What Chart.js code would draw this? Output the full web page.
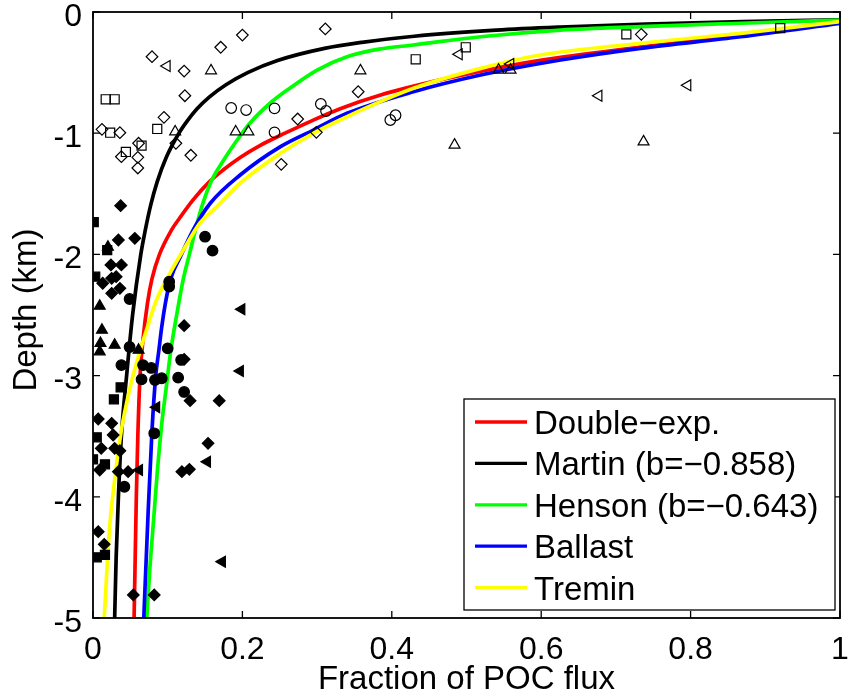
<!DOCTYPE html>
<html>
<head>
<meta charset="utf-8">
<script src="https://cdn.jsdelivr.net/npm/chart.js@4.4.1/dist/chart.umd.min.js"></script>
<style>
  html, body { margin: 0; padding: 0; background: #fff; }
  #c { display: block; }
</style>
</head>
<body>
<canvas id="c" width="848" height="699"></canvas>
<script>
const FONT = '"Liberation Sans", Arial, Helvetica, sans-serif';

// Axis ticks
const xTicks = [0, 0.2, 0.4, 0.6, 0.8, 1];
const xTickLabels = ['0', '0.2', '0.4', '0.6', '0.8', '1'];
const yTicks = [0, -1, -2, -3, -4, -5];
const yTickLabels = ['0', '-1', '-2', '-3', '-4', '-5'];

// Model curves: fraction of POC flux vs depth (km)
const seriesNames = ['Double\u2212exp.', 'Martin (b=\u22120.858)', 'Henson (b=\u22120.643)', 'Ballast', 'Tremin'];
const seriesColors = ['#ff0000', '#000000', '#00ff00', '#0000ff', '#ffff00'];

const doubleExpDepth = [0.08, 0.19, 0.29, 0.375, 0.44, 0.55, 0.685, 0.8, 0.9, 1.0, 1.1, 1.2, 1.3, 1.4, 1.55, 1.7, 1.8, 2.0, 2.2, 2.4, 2.7, 3.0, 3.5, 4.0, 4.5, 5.0];
const doubleExpFrac  = [1.0, 0.867, 0.733, 0.626, 0.56, 0.472, 0.385, 0.33, 0.292, 0.257, 0.224, 0.197, 0.175, 0.156, 0.134, 0.116, 0.105, 0.089, 0.079, 0.073, 0.067, 0.063, 0.060, 0.058, 0.0565, 0.055];

const martinDepth = [0.065, 0.08, 0.1, 0.125, 0.15, 0.2, 0.25, 0.3, 0.4, 0.5, 0.6, 0.7, 0.8, 0.9, 1.0, 1.2, 1.4, 1.6, 1.8, 2.0, 2.5, 3.0, 3.5, 4.0, 4.5, 5.0];
const martinFrac  = [1.0, 0.87, 0.74, 0.625, 0.54, 0.43, 0.36, 0.31, 0.247, 0.207, 0.178, 0.156, 0.139, 0.126, 0.115, 0.098, 0.086, 0.077, 0.070, 0.064, 0.053, 0.045, 0.038, 0.034, 0.031, 0.029];

const hensonDepth = [0.066, 0.093, 0.121, 0.149, 0.204, 0.272, 0.306, 0.369, 0.479, 0.644, 0.753, 0.918, 1.056, 1.221, 1.4, 1.6, 1.8, 2.0, 2.2, 2.5, 2.8, 3.1, 3.4, 3.8, 4.2, 4.6, 5.0];
const hensonFrac  = [1.0, 0.867, 0.733, 0.626, 0.519, 0.429, 0.383, 0.340, 0.300, 0.260, 0.237, 0.210, 0.193, 0.175, 0.158, 0.146, 0.137, 0.129, 0.121, 0.112, 0.104, 0.098, 0.092, 0.086, 0.081, 0.076, 0.072];

const ballastDepth = [0.093, 0.204, 0.30, 0.396, 0.52, 0.658, 0.836, 0.974, 1.111, 1.345, 1.578, 1.799, 2.019, 2.2, 2.4, 2.6, 2.8, 3.0, 3.45, 4.1, 5.0];
const ballastFrac  = [1.0, 0.867, 0.733, 0.626, 0.519, 0.429, 0.340, 0.295, 0.251, 0.197, 0.157, 0.134, 0.117, 0.104, 0.097, 0.092, 0.088, 0.084, 0.079, 0.074, 0.068];

const treminDepth = [0.08, 0.176, 0.258, 0.355, 0.465, 0.63, 0.864, 1.001, 1.166, 1.413, 1.606, 1.743, 1.964, 2.156, 2.376, 2.597, 2.816, 3.064, 3.284, 3.449, 3.861, 4.274, 5.0];
const treminFrac  = [1.0, 0.867, 0.733, 0.599, 0.519, 0.429, 0.340, 0.295, 0.251, 0.197, 0.166, 0.143, 0.121, 0.103, 0.085, 0.073, 0.062, 0.051, 0.043, 0.038, 0.029, 0.022, 0.015];

// Observations, shallow traps (open markers): [fraction, depth km]
const openDiamond = [[0.200,0.190],[0.171,0.291],[0.079,0.369],[0.122,0.487],[0.123,0.691],[0.095,0.869],[0.012,0.968],[0.036,0.996],[0.061,1.083],[0.038,1.194],[0.060,1.199],[0.060,1.287],[0.111,1.083],[0.131,1.182],[0.252,1.257],[0.311,0.140],[0.355,0.658],[0.274,0.883],[0.299,0.993],[0.734,0.184]];
const openSquare = [[0.017,0.720],[0.029,0.720],[0.023,0.996],[0.086,0.965],[0.044,1.155],[0.065,1.103],[0.432,0.390],[0.499,0.291],[0.714,0.184],[0.920,0.134]];
const openTriangle = [[0.158,0.484],[0.110,0.988],[0.191,0.988],[0.208,0.988],[0.358,0.484],[0.484,1.097],[0.543,0.479],[0.559,0.479],[0.737,1.070]];
const openLeftTriangle = [[0.099,0.446],[0.490,0.349],[0.559,0.429],[0.677,0.691],[0.796,0.605]];
const openCircle = [[0.185,0.792],[0.205,0.809],[0.243,0.795],[0.243,0.993],[0.305,0.759],[0.312,0.817],[0.398,0.891],[0.405,0.852]];

// Observations, deep traps (filled markers)
const filledDiamond = [[0.037,1.598],[0.034,1.881],[0.056,1.867],[0.038,2.087],[0.024,2.087],[0.013,2.238],[0.025,2.197],[0.031,2.184],[0.036,2.280],[0.025,2.321],[0.122,2.588],[0.122,2.866],[0.130,3.207],[0.169,3.207],[0.007,3.358],[0.025,3.394],[0.027,3.490],[0.011,3.600],[0.029,3.600],[0.036,3.620],[0.154,3.559],[0.009,3.779],[0.034,3.793],[0.047,3.793],[0.119,3.793],[0.129,3.773],[0.007,4.288],[0.015,4.392],[0.054,4.810],[0.082,4.810]];
const filledSquare = [[0.001,1.733],[0.019,1.964],[0.003,2.184],[0.037,3.097],[0.028,3.196],[0.005,3.509],[0.000,3.691],[0.016,3.732],[0.005,4.499],[0.016,4.480]];
const filledTriangle = [[0.020,1.939],[0.009,2.426],[0.012,2.624],[0.010,2.734],[0.009,2.803],[0.029,2.748],[0.061,2.789]];
const filledLeftTriangle = [[0.199,2.453],[0.197,2.962],[0.085,3.262],[0.153,3.710],[0.062,3.779],[0.173,4.535]];
const filledCircle = [[0.150,1.854],[0.160,1.969],[0.102,2.225],[0.102,2.265],[0.049,2.368],[0.049,2.764],[0.100,2.775],[0.038,2.913],[0.067,2.913],[0.078,2.937],[0.065,3.031],[0.083,3.036],[0.092,3.022],[0.114,3.017],[0.118,2.871],[0.122,3.135],[0.082,3.476],[0.042,3.917]];

// depth is plotted downward as negative km
const toXY = (frac, depth) => frac.map((f, i) => ({ x: f, y: -depth[i] }));
const pairsToXY = pairs => pairs.map(p => ({ x: p[0], y: -p[1] }));

const curves = [
  [doubleExpFrac, doubleExpDepth],
  [martinFrac, martinDepth],
  [hensonFrac, hensonDepth],
  [ballastFrac, ballastDepth],
  [treminFrac, treminDepth]
];

const lineSets = curves.map((cv, i) => ({
  type: 'line',
  label: seriesNames[i],
  data: toXY(cv[0], cv[1]),
  borderColor: seriesColors[i],
  borderWidth: 3.7,
  pointRadius: 0,
  cubicInterpolationMode: 'monotone',
  fill: false,
  order: 10 - i,
  isModel: true
}));

function markerSet(pairs, style, filled, radius, rotation) {
  return {
    type: 'scatter',
    data: pairsToXY(pairs),
    pointStyle: style,
    pointRadius: radius,
    pointRotation: rotation || 0,
    pointBorderColor: '#000',
    pointBackgroundColor: filled ? '#000' : 'rgba(0,0,0,0)',
    pointBorderWidth: 1.2,
    showLine: false,
    order: 0
  };
}

const markerSets = [
  markerSet(openDiamond, 'rectRot', false, 5.8),
  markerSet(openSquare, 'rect', false, 6.4),
  markerSet(openTriangle, 'triangle', false, 6.3),
  markerSet(openLeftTriangle, 'triangle', false, 6.3, -90),
  markerSet(openCircle, 'circle', false, 5.3),
  markerSet(filledDiamond, 'rectRot', true, 5.8),
  markerSet(filledSquare, 'rect', true, 6.4),
  markerSet(filledTriangle, 'triangle', true, 6.3),
  markerSet(filledLeftTriangle, 'triangle', true, 6.3, -90),
  markerSet(filledCircle, 'circle', true, 5.3)
];

// frame with inward ticks, in-plot legend and axis titles
const decorations = {
  id: 'decorations',
  afterDraw(chart) {
    const { ctx, chartArea: a, scales: { x, y } } = chart;
    ctx.save();
    ctx.strokeStyle = '#000';
    ctx.lineWidth = 1.3;
    ctx.beginPath();
    xTicks.forEach(v => {
      const px = x.getPixelForValue(v);
      ctx.moveTo(px, a.bottom); ctx.lineTo(px, a.bottom - 7);
      ctx.moveTo(px, a.top); ctx.lineTo(px, a.top + 7);
    });
    yTicks.forEach(v => {
      const py = y.getPixelForValue(v);
      ctx.moveTo(a.left, py); ctx.lineTo(a.left + 7, py);
      ctx.moveTo(a.right, py); ctx.lineTo(a.right - 7, py);
    });
    ctx.stroke();

    // legend box
    const lx = 464, ly = 399, lw = 371, lh = 211;
    ctx.fillStyle = '#fff';
    ctx.fillRect(lx, ly, lw, lh);
    ctx.lineWidth = 1.3;
    ctx.strokeRect(lx, ly, lw, lh);
    ctx.font = '33px ' + FONT;
    ctx.textAlign = 'left';
    ctx.textBaseline = 'alphabetic';
    const models = chart.data.datasets.filter(d => d.isModel);
    models.forEach((d, i) => {
      const ry = 422 + i * 41.4;
      ctx.strokeStyle = d.borderColor;
      ctx.lineWidth = 3.3;
      ctx.beginPath(); ctx.moveTo(475, ry); ctx.lineTo(527, ry); ctx.stroke();
      ctx.fillStyle = '#000';
      ctx.fillText(d.label, 534, ry + 12);
    });

    // frame
    ctx.strokeStyle = '#000';
    ctx.lineWidth = 1.8;
    ctx.strokeRect(a.left, a.top, a.right - a.left, a.bottom - a.top);

    // axis titles
    ctx.fillStyle = '#000';
    ctx.font = '33px ' + FONT;
    ctx.textAlign = 'center';
    ctx.textBaseline = 'alphabetic';
    ctx.fillText('Fraction of POC flux', (a.left + a.right) / 2, 689);
    ctx.translate(36, 310);
    ctx.rotate(-Math.PI / 2);
    ctx.fillText('Depth (km)', 0, 0);
    ctx.restore();
  }
};

new Chart(document.getElementById('c'), {
  data: { datasets: [...markerSets, ...lineSets] },
  options: {
    responsive: false,
    animation: false,
    events: [],
    layout: { padding: { left: 0, top: 12, right: 8, bottom: 0 } },
    plugins: { legend: { display: false }, tooltip: { enabled: false } },
    scales: {
      x: {
        type: 'linear', min: 0, max: 1,
        afterBuildTicks: s => { s.ticks = xTicks.map(v => ({ value: v })); },
        afterFit: s => { s.height = 81; s.paddingLeft = 0; s.paddingRight = 0; },
        grid: { display: false, drawTicks: false },
        border: { display: false },
        ticks: {
          padding: 13, color: '#000', maxRotation: 0,
          font: { family: FONT, size: 32 },
          callback: v => xTickLabels[xTicks.indexOf(v)]
        }
      },
      y: {
        type: 'linear', min: -5, max: 0,
        afterBuildTicks: s => { s.ticks = yTicks.map(v => ({ value: v })); },
        afterFit: s => { s.width = 93; s.paddingTop = 0; s.paddingBottom = 0; },
        grid: { display: false, drawTicks: false },
        border: { display: false },
        ticks: {
          padding: 11, color: '#000', labelOffset: 5,
          font: { family: FONT, size: 32 },
          callback: v => yTickLabels[yTicks.indexOf(v)]
        }
      }
    }
  },
  plugins: [decorations]
});
</script>
</body>
</html>
